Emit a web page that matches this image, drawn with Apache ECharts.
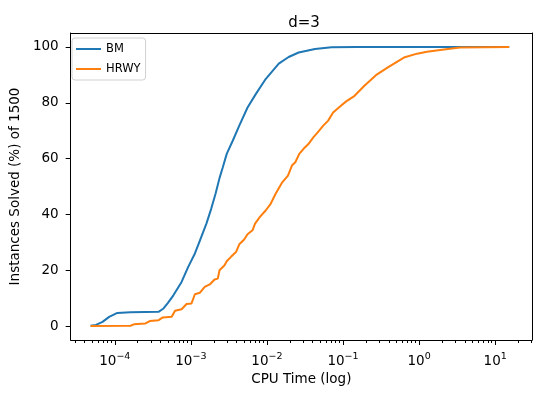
<!DOCTYPE html>
<html>
<head>
<meta charset="utf-8">
<script src="https://cdn.jsdelivr.net/npm/echarts@6/dist/echarts.min.js"></script>
<style>html,body{margin:0;padding:0;background:#fff}#c{width:540px;height:398px}</style>
</head>
<body>
<div id="c"></div>
<script>
// ---- data (CPU time in seconds, percent of instances solved) ----
const seriesNames = ['BM', 'HRWY'];
const bmTime = [4.8e-5, 5.66e-5, 6.9e-5, 8.43e-5, 1.08e-4, 1.6e-4, 2.5e-4, 3.76e-4, 4.37e-4, 5.0e-4,
  5.89e-4, 7.55e-4, 9.23e-4, 1.13e-3, 1.31e-3, 1.6e-3, 1.85e-3, 2.11e-3, 2.38e-3, 2.63e-3,
  2.96e-3, 3.55e-3, 4.33e-3, 5.56e-3, 7.13e-3, 9.62e-3, 1.43e-2, 1.93e-2, 2.61e-2, 4.29e-2,
  7.05e-2, 0.15, 15.3];
const bmSolved = [0.1, 0.4, 1.5, 3.3, 4.7, 4.9, 5.0, 5.1, 6.3, 8.3,
  11.0, 15.8, 21.2, 26.0, 30.5, 36.7, 42.0, 47.4, 53.0, 56.9,
  61.7, 66.4, 71.8, 78.3, 83.1, 88.5, 94.0, 96.4, 98.0, 99.3,
  99.9, 100, 100];
const hrwyTime = [4.8e-5, 1.61e-4, 1.78e-4, 2.53e-4, 2.88e-4, 3.77e-4, 4.28e-4, 5.6e-4, 6.19e-4, 7.55e-4,
  8.77e-4, 1.02e-3, 1.13e-3, 1.31e-3, 1.52e-3, 1.77e-3, 2.05e-3, 2.26e-3, 2.38e-3, 2.77e-3,
  2.96e-3, 3.37e-3, 3.92e-3, 4.33e-3, 5.02e-3, 5.56e-3, 6.46e-3, 6.98e-3, 8.04e-3, 9.62e-3,
  1.12e-2, 1.3e-2, 1.59e-2, 1.89e-2, 2.13e-2, 2.36e-2, 2.66e-2, 3.03e-2, 3.51e-2, 4.07e-2,
  4.65e-2, 5.5e-2, 6.38e-2, 7.41e-2, 9.06e-2, 0.11, 0.142, 0.191, 0.271, 0.384,
  0.632, 0.942, 1.27, 1.89, 3.44, 15.3];
const hrwySolved = [0, 0.1, 0.6, 0.95, 1.8, 2.1, 3.1, 3.3, 5.5, 6.0,
  7.9, 8.1, 11.4, 11.9, 14.0, 14.9, 16.7, 17.0, 20.0, 21.8,
  23.2, 24.8, 26.5, 29.3, 31.0, 32.9, 34.3, 36.7, 39.0, 41.4,
  43.8, 47.4, 51.5, 53.9, 57.5, 58.7, 61.7, 63.5, 65.2, 67.6,
  69.4, 71.8, 73.6, 76.5, 78.6, 80.5, 82.5, 86.1, 89.9, 92.6,
  96.2, 97.6, 98.3, 98.9, 99.8, 100];
const xMajorTicks = [1e-4, 1e-3, 1e-2, 1e-1, 1e0, 1e1];
const yTicks = [0, 20, 40, 60, 80, 100];

// minor ticks on the log axis (2..9 times each decade)
const X_MIN = 2.63e-5, X_MAX = 30.5;
const xMinorTicks = [];
for (let e = -5; e <= 1; e++) {
  for (let k = 2; k <= 9; k++) {
    const v = k * Math.pow(10, e);
    if (v > X_MIN && v < X_MAX) xMinorTicks.push(v);
  }
}
const zip = (a, b) => a.map((t, i) => [t, b[i]]);

const FONT = 'DejaVu Sans';
const frameAxisLine = {show: true, onZero: false, lineStyle: {color: '#000', width: 1}};
const chart = echarts.init(document.getElementById('c'), null, {renderer: 'canvas'});
chart.setOption({
  animation: false,
  backgroundColor: '#fff',
  textStyle: {fontFamily: FONT},
  title: {
    text: 'd=3', left: 299, top: 11, textAlign: 'center',
    textStyle: {fontFamily: FONT, fontSize: 15, fontWeight: 'normal', color: '#000'}
  },
  grid: {left: 66, right: 8, top: 33, bottom: 58, show: false},
  legend: {
    orient: 'vertical', left: 72, top: 38,
    padding: [5, 5, 5, 4], itemGap: 8, itemWidth: 25, itemHeight: 2, itemTextGap: 8,
    icon: 'rect',
    borderColor: '#d0d0d0', borderWidth: 1, borderRadius: 3, backgroundColor: 'rgba(255,255,255,0.8)',
    textStyle: {fontFamily: FONT, fontSize: 11.5, color: '#000'},
    data: seriesNames
  },
  xAxis: [{
    type: 'log', min: X_MIN, max: X_MAX, position: 'bottom',
    name: 'CPU Time (log)', nameLocation: 'middle', nameGap: 32,
    nameTextStyle: {fontFamily: FONT, fontSize: 13.5, color: '#000'},
    axisLine: frameAxisLine,
    axisTick: {show: true, inside: false, length: 5, customValues: xMajorTicks, lineStyle: {color: '#000'}},
    splitLine: {show: false},
    axisLabel: {
      show: true, margin: 12, customValues: xMajorTicks,
      formatter: function (v) {
        const e = Math.round(Math.log10(v));
        return '{b|10}{s|' + (e < 0 ? '\u2212' + (-e) : String(e)) + '}';
      },
      rich: {
        b: {fontFamily: FONT, fontSize: 13.5, lineHeight: 16, verticalAlign: 'bottom', color: '#000'},
        s: {fontFamily: FONT, fontSize: 9.5, lineHeight: 8, verticalAlign: 'top', color: '#000'}
      }
    }
  }, {
    type: 'log', min: X_MIN, max: X_MAX, position: 'bottom', gridIndex: 0,
    axisLine: {show: false, onZero: false},
    axisTick: {show: true, inside: false, length: 3, customValues: xMinorTicks, lineStyle: {color: '#000'}},
    axisLabel: {show: false},
    splitLine: {show: false}
  }, {
    type: 'log', min: X_MIN, max: X_MAX, position: 'top', gridIndex: 0,
    axisLine: frameAxisLine,
    axisTick: {show: false}, axisLabel: {show: false}, splitLine: {show: false}
  }],
  yAxis: [{
    type: 'value', min: -5, max: 105, position: 'left',
    name: 'Instances Solved (%) of 1500', nameLocation: 'middle', nameGap: 43,
    nameTextStyle: {fontFamily: FONT, fontSize: 13.5, color: '#000'},
    axisLine: frameAxisLine,
    axisTick: {show: true, inside: false, length: 5, customValues: yTicks, lineStyle: {color: '#000'}},
    splitLine: {show: false},
    axisLabel: {show: true, margin: 12, customValues: yTicks, fontFamily: FONT, fontSize: 13.5, color: '#000'}
  }, {
    type: 'value', min: -5, max: 105, position: 'right',
    axisLine: frameAxisLine,
    axisTick: {show: false}, axisLabel: {show: false}, splitLine: {show: false}
  }],
  series: [{
    name: seriesNames[0], type: 'line', xAxisIndex: 0, yAxisIndex: 0, showSymbol: false, symbol: 'none',
    data: zip(bmTime, bmSolved),
    itemStyle: {color: '#1f77b4'}, lineStyle: {color: '#1f77b4', width: 2}
  }, {
    name: seriesNames[1], type: 'line', xAxisIndex: 0, yAxisIndex: 0, showSymbol: false, symbol: 'none',
    data: zip(hrwyTime, hrwySolved),
    itemStyle: {color: '#ff7f0e'}, lineStyle: {color: '#ff7f0e', width: 2}
  }]
});
</script>
</body>
</html>
